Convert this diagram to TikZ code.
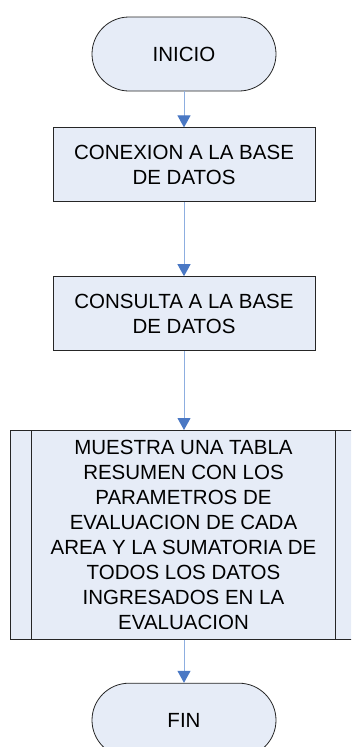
\documentclass[tikz,border=0pt]{standalone}
\usepackage{fontspec}
\setmainfont{Liberation Sans}
\usetikzlibrary{positioning, arrows.meta}

\definecolor{boxfill}{HTML}{E6ECF7}
\definecolor{linecol}{HTML}{8DAEE0}
\definecolor{headcol}{HTML}{4A78C4}

\tikzset{
    term/.style={draw=black!85, fill=boxfill, line width=0.8pt, rounded corners=37pt,
        minimum width=184pt, minimum height=74pt, align=center},
    proc/.style={draw=black!85, fill=boxfill, line width=0.8pt,
        minimum width=262pt, minimum height=74pt, align=center},
    subproc/.style={draw=black!85, fill=boxfill, line width=0.8pt,
        minimum width=347pt, minimum height=209pt, align=center},
    flow/.style={draw=linecol, line width=1pt, -{Triangle[length=12pt,width=13pt,color=headcol]}}
}

\begin{document}
\begin{tikzpicture}[x=1pt, y=-1pt, node distance=36pt,
    font=\fontsize{20.5}{25}\selectfont]
    \useasboundingbox (0,0) rectangle (351,747);
    \clip (0,0) rectangle (351,747);
    % flow chart
    \node[term] (inicio) at (184,54) {INICIO};
    \node[proc, below=36pt of inicio] (conexion) {CONEXION A LA BASE\\DE DATOS};
    \node[proc, below=74pt of conexion] (consulta) {CONSULTA A LA BASE\\DE DATOS};
    \node[subproc, below=79pt of consulta, xshift=-0.5pt] (tabla) {MUESTRA UNA TABLA\\RESUMEN CON LOS\\PARAMETROS DE\\EVALUACION DE CADA\\AREA Y LA SUMATORIA DE\\TODOS LOS DATOS\\INGRESADOS EN LA\\EVALUACION};
    \node[term, below=43pt of tabla, xshift=0.5pt] (fin) {FIN};

    \draw[draw=black!85, line width=0.8pt] ([xshift=22pt]tabla.north west) -- ([xshift=22pt]tabla.south west)
        ([xshift=-22pt]tabla.north east) -- ([xshift=-22pt]tabla.south east);

    \draw[flow] (inicio) -- (conexion);
    \draw[flow] (conexion) -- (consulta);
    \draw[flow] (consulta) -- (consulta |- tabla.north);
    \draw[flow] (consulta |- tabla.south) -- (fin);
\end{tikzpicture}
\end{document}
